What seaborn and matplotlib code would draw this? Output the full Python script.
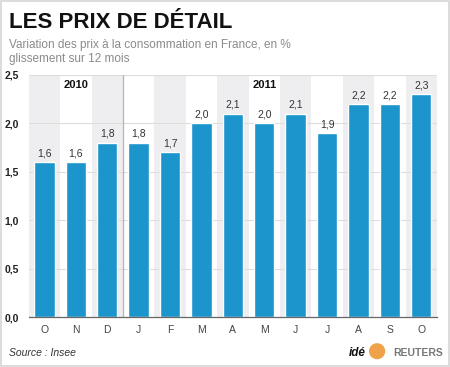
import pandas as pd
import matplotlib.pyplot as plt
import seaborn as sns
from matplotlib.patches import Rectangle, Ellipse

# Data
months = ["O", "N", "D", "J", "F", "M", "A", "M", "J", "J", "A", "S", "O"]
years = ["2010", "2011"]
values = [1.6, 1.6, 1.8, 1.8, 1.7, 2.0, 2.1, 2.0, 2.1, 1.9, 2.2, 2.2, 2.3]

blue = "#1b95cc"
stripe = "#eeeef0"

sns.set_theme(style="white")
plt.rcParams["font.family"] = ["Liberation Sans", "DejaVu Sans"]

df = pd.DataFrame({
    "key": [f"{m}{i}" for i, m in enumerate(months)],
    "value": values
})

fig = plt.figure(figsize=(4.5, 3.67), dpi=100)
ax = fig.add_axes([0.064, 0.136, 0.907, 0.66])

# alternating background columns
for i in range(len(months)):
    if i % 2 == 0:
        ax.axvspan(i - 0.5, i + 0.5, color=stripe, zorder=0, lw=0)

sns.barplot(
    data=df,
    x="key",
    y="value",
    color=blue,
    saturation=1,
    width=0.65,
    ax=ax,
    zorder=3
)

# grid lines
for yv in [0.5, 1.0, 1.5, 2.0, 2.5]:
    ax.axhline(yv, color="#dddddd", lw=0.8, zorder=1)

# year separator
ax.axvline(2.5, color="#b5b5b5", lw=0.9, zorder=2)

# value labels
for i, v in enumerate(values):
    ax.text(i, v + 0.04, f"{v:.1f}".replace(".", ","),
            ha="center", va="bottom", fontsize=7.5, color="#333333", zorder=4)

ax.text(1, 2.4, years[0], ha="center", va="center",
        fontsize=8, fontweight="bold", color="#111111")
ax.text(7, 2.4, years[1], ha="center", va="center",
        fontsize=8, fontweight="bold", color="#111111")

ax.set_xlim(-0.5, len(months) - 0.5)
ax.set_ylim(0, 2.5)
ax.set_yticks([0, 0.5, 1.0, 1.5, 2.0, 2.5])
ax.set_yticklabels(["0,0", "0,5", "1,0", "1,5", "2,0", "2,5"],
                   fontsize=7.5, fontweight="bold", color="#222222")
ax.set_xticks(range(len(months)))
ax.set_xticklabels(months, fontsize=7.5, color="#444444")
ax.set_xlabel("")
ax.set_ylabel("")
ax.tick_params(axis="y", length=3, color="#cccccc", pad=4)
ax.tick_params(axis="x", length=0, pad=6)

for s in ["top", "right", "left"]:
    ax.spines[s].set_visible(False)
ax.spines["bottom"].set_color("#666666")
ax.spines["bottom"].set_linewidth(0.9)
ax.spines["bottom"].set_zorder(5)

# titles
fig.text(0.02, 0.925, "LES PRIX DE DÉTAIL", fontsize=16, fontweight="bold",
         color="#111111", ha="left", va="baseline")
fig.text(0.02, 0.87, "Variation des prix à la consommation en France, en %",
         fontsize=8.5, color="#8a8a8a", ha="left", va="baseline")
fig.text(0.02, 0.83, "glissement sur 12 mois",
         fontsize=8.5, color="#8a8a8a", ha="left", va="baseline")

# footer
fig.text(0.02, 0.03, "Source : Insee", fontsize=7.5, style="italic",
         color="#333333", ha="left", va="baseline")
fig.text(0.776, 0.03, "idé", fontsize=8.5, style="italic", fontweight="bold",
         color="#111111", ha="left", va="baseline")
fig.add_artist(Ellipse((0.838, 0.043), 0.033, 0.04, transform=fig.transFigure,
                       color="#f0a24a", zorder=5))
fig.text(0.873, 0.03, "REUTERS", fontsize=7.5, fontweight="bold",
         color="#777777", ha="left", va="baseline")

# frame around the image
fig.add_artist(Rectangle((0.002, 0.003), 0.996, 0.994, transform=fig.transFigure,
                         fill=False, edgecolor="#d5d5d5", lw=1.2))

fig.savefig("out.png", dpi=100)
